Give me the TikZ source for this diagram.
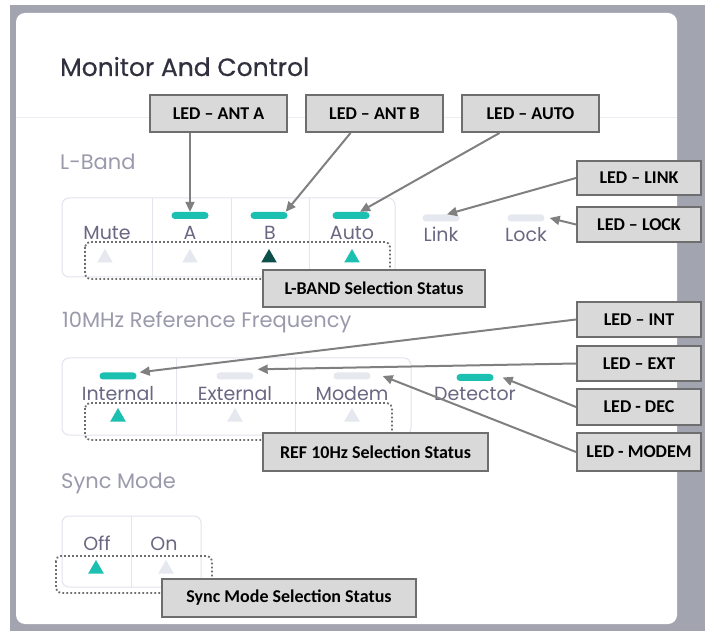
\documentclass[tikz,border=0pt]{standalone}
\usepackage{fontspec}
\usetikzlibrary{shapes.geometric,arrows.meta}
\newfontfamily\uifont{Poppins}
\newfontfamily\headfont[FakeBold=0.5]{Poppins}
\newfontfamily\tagfont{Carlito}
\definecolor{frame}{HTML}{A2A4AF}
\definecolor{headerline}{HTML}{ECEEF3}
\definecolor{groupline}{HTML}{E2E4EE}
\definecolor{teal}{HTML}{1CC0B0}
\definecolor{darkteal}{HTML}{0D4F4A}
\definecolor{idle}{HTML}{E6E8EF}
\definecolor{titletext}{HTML}{30303F}
\definecolor{sectext}{HTML}{9A9AAC}
\definecolor{btntext}{HTML}{6A6782}
\definecolor{tagfill}{HTML}{D9D9D9}
\definecolor{tagborder}{HTML}{6E6E6E}
\definecolor{arrowgray}{HTML}{808080}
\definecolor{dotgray}{HTML}{6E6E6E}
\begin{document}
\begin{tikzpicture}[x=1pt,y=-1pt,
  ledbar/.style={rectangle, rounded corners=3.5pt, minimum width=37pt, minimum height=7pt, inner sep=0pt},
  tri/.style={regular polygon, regular polygon sides=3, minimum size=18pt, inner sep=0pt},
  btnlabel/.style={font=\uifont\fontsize{19}{19}\selectfont, text=btntext, anchor=base, inner sep=0pt},
  section/.style={font=\uifont\fontsize{21}{21}\selectfont, text=sectext, anchor=base west, inner sep=0pt},
  heading/.style={font=\headfont\fontsize{25}{25}\selectfont, text=titletext, anchor=base west, inner sep=0pt},
  tag/.style={draw=tagborder, line width=2pt, fill=tagfill, text=black, font=\tagfont\bfseries\fontsize{18}{18}\selectfont, inner sep=0pt},
  pointer/.style={draw=arrowgray, line width=2pt, -{Triangle[length=10pt,width=9pt]}},
  group/.style={draw=groupline, line width=1pt, rounded corners=7pt},
  status/.style={draw=dotgray, line width=1.8pt, dash pattern=on 1.8pt off 2.2pt, rounded corners=5pt}
]
\useasboundingbox (0,0) rectangle (705,631);
% page frame and card
\fill[frame] (10,5) rectangle (705,631);
\fill[white, rounded corners=9pt] (16,13) rectangle (677,624);
\draw[headerline, line width=1pt] (16,118) -- (677,118);

\node[heading] (title) at (60,76) {Monitor And Control};

% ---- L-Band ----
\node[section] (lband) at (60,170) {L-Band};
\draw[group] (62,198) rectangle (395,277);
\draw[groupline, line width=1pt] (152,198) -- (152,277) (231,198) -- (231,277) (309,198) -- (309,277);
\node[ledbar, fill=teal] (ledA) at (190,215.5) {};
\node[ledbar, fill=teal] (ledB) at (269,215.5) {};
\node[ledbar, fill=teal] (ledAuto) at (351,215.5) {};
\node[btnlabel] (lblMute) at (107,240) {Mute};
\node[btnlabel] (lblA) at (190,240) {A};
\node[btnlabel] (lblB) at (270,240) {B};
\node[btnlabel] (lblAuto) at (352,240) {Auto};
\node[tri, fill=idle] (triMute) at (105,258) {};
\node[tri, fill=idle] (triA) at (190,258) {};
\node[tri, fill=darkteal] (triB) at (269,258) {};
\node[tri, fill=teal] (triAuto) at (352,258) {};
\node[ledbar, fill=idle] (ledLink) at (441,218) {};
\node[ledbar, fill=idle] (ledLock) at (526,218) {};
\node[btnlabel] (lblLink) at (441,242) {Link};
\node[btnlabel] (lblLock) at (526,242) {Lock};
\draw[status] (85,242) rectangle (390,279);

% ---- 10MHz reference ----
\node[section] (refFreq) at (62,328) {10MHz Reference Frequency};
\draw[group] (62,358) rectangle (411,435);
\draw[groupline, line width=1pt] (176,358) -- (176,435) (295,358) -- (295,435);
\node[ledbar, fill=teal] (ledInt) at (118,376) {};
\node[ledbar, fill=idle] (ledExt) at (235,376) {};
\node[ledbar, fill=idle] (ledModem) at (352,376) {};
\node[ledbar, fill=teal] (ledDec) at (475,377.5) {};
\node[btnlabel] (lblInt) at (118,400) {Internal};
\node[btnlabel] (lblExt) at (235,400) {External};
\node[btnlabel] (lblModem) at (352,400) {Modem};
\node[btnlabel] (lblDec) at (475,401) {Detector};
\node[tri, fill=teal] (triInt) at (118,417) {};
\node[tri, fill=idle] (triExt) at (235,417) {};
\node[tri, fill=idle] (triModem) at (352,417) {};
\draw[status] (85,403) rectangle (392,440);

% ---- Sync mode ----
\node[section] (sync) at (61,488) {Sync Mode};
\draw[group] (62,516) rectangle (201,587);
\draw[groupline, line width=1pt] (131,516) -- (131,587);
\node[btnlabel] (lblOff) at (97,550) {Off};
\node[btnlabel] (lblOn) at (164,550) {On};
\node[tri, fill=teal] (triOff) at (96,569) {};
\node[tri, fill=idle] (triOn) at (166,569) {};
\draw[status] (56,556) rectangle (212,593);

% ---- callouts ----
\node[tag, minimum width=137pt, minimum height=37pt] (tagA) at (218.5,113.5) {LED – ANT A};
\node[tag, minimum width=137pt, minimum height=37pt] (tagB) at (374.5,113.5) {LED – ANT B};
\node[tag, minimum width=137pt, minimum height=37pt] (tagAuto) at (530.5,113.5) {LED – AUTO};
\node[tag, minimum width=124pt, minimum height=34pt] (tagLink) at (639,178) {LED – LINK};
\node[tag, minimum width=124pt, minimum height=35pt] (tagLock) at (639,224.5) {LED – LOCK};
\node[tag, minimum width=124pt, minimum height=35pt] (tagInt) at (639,319.5) {LED – INT};
\node[tag, minimum width=124pt, minimum height=35pt] (tagExt) at (639,363.5) {LED – EXT};
\node[tag, minimum width=124pt, minimum height=36pt] (tagDec) at (639,407) {LED - DEC};
\node[tag, minimum width=124pt, minimum height=38pt] (tagModem) at (639,452) {LED - MODEM};
\node[tag, minimum width=222pt, minimum height=37pt] (tagLband) at (374,288.5) {L-BAND Selection Status};
\node[tag, minimum width=225pt, minimum height=38pt] (tagRef) at (375.5,452) {REF 10Hz Selection Status};
\node[tag, minimum width=254pt, minimum height=38pt] (tagSync) at (289,598) {Sync Mode Selection Status};

% ---- pointers ----
\draw[pointer] (ledA.north |- tagA.south) -- (ledA.north);
\draw[pointer] ([xshift=-24pt]tagB.south) -- ([xshift=-2pt]ledB.north east);
\draw[pointer] ([xshift=-31pt]tagAuto.south) -- ([xshift=9pt]ledAuto.north);
\draw[pointer] (tagLink.west) -- ([xshift=6pt]ledLink.north);
\draw[pointer] (tagLock.west) -- ([xshift=5pt]ledLock.east);
\draw[pointer] (tagInt.west) -- ([xshift=3pt]ledInt.north east);
\draw[pointer] (tagExt.west) -- ([xshift=4pt,yshift=3pt]ledExt.north east);
\draw[pointer] (tagDec.west) -- ([xshift=9pt]ledDec.east);
\draw[pointer] (tagModem.west) -- ([xshift=12pt]ledModem.east);
\end{tikzpicture}
\end{document}
